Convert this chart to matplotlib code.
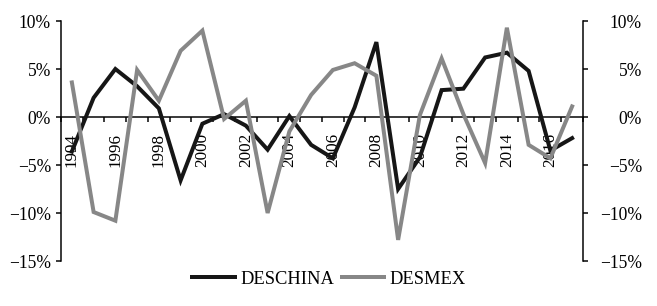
import matplotlib

matplotlib.use("Agg")
import matplotlib.pyplot as plt
import numpy as np
from matplotlib.ticker import FixedLocator, FuncFormatter

# --- data ------------------------------------------------------------------
years = list(range(1994, 2018))
deschina = [-3.6, 2.0, 5.0, 3.2, 0.9, -6.6, -0.7, 0.3, -0.9, -3.4, 0.1, -2.9,
            -4.3, 1.0, 7.8, -7.5, -4.2, 2.8, 2.95, 6.2, 6.7, 4.8, -3.5, -2.2]
desmex = [3.6, -9.9, -10.8, 4.9, 1.7, 6.9, 9.0, -0.2, 1.7, -10.0, -1.5, 2.3,
          4.9, 5.6, 4.3, -12.8, 0.2, 6.1, 0.3, -4.8, 9.3, -2.9, -4.3, 1.1]
yticks = [-15, -10, -5, 0, 5, 10]
label_years = list(range(1994, 2017, 2))

BLACK = "#161616"
GREY = "#878787"
FS = 17.5

plt.rcParams["font.family"] = ["Liberation Serif", "DejaVu Serif"]


def pct(v, _pos=None):
    s = f"{abs(v):.0f}%"
    return ("\u2212" + s) if v < 0 else s


W, H = 657, 306
fig = plt.figure(figsize=(W / 72, H / 72), dpi=72)
ax = fig.add_axes([61 / W, 45 / H, (583 - 61) / W, (261 - 21) / H])

ax.plot(years, deschina, color=BLACK, lw=4, solid_joinstyle="miter", label="DESCHINA", zorder=3)
ax.plot(years, desmex, color=GREY, lw=4, solid_joinstyle="miter", label="DESMEX", zorder=4)

ax.set_xlim(years[0] - 0.5, years[-1] + 0.5)
ax.set_ylim(-15, 10)

for side in ("top", "right"):
    ax.spines[side].set_visible(False)
ax.spines["bottom"].set_position(("data", 0))
ax.spines["bottom"].set_linewidth(1.5)
ax.spines["left"].set_linewidth(1.5)

# category boundaries as major ticks, year labels on minor ticks
ax.xaxis.set_major_locator(FixedLocator(np.arange(years[0] - 0.5, years[-1] + 1)))
ax.xaxis.set_minor_locator(FixedLocator(label_years))
ax.set_xticklabels([], minor=False)
ax.set_xticklabels([str(y) for y in label_years], minor=True, rotation=90, fontsize=17)
ax.tick_params(axis="x", which="major", direction="out", length=5, width=1.5)
ax.tick_params(axis="x", which="minor", length=0, pad=16)

ax.set_yticks(yticks)
ax.yaxis.set_major_formatter(FuncFormatter(pct))
ax.tick_params(axis="y", direction="out", length=5, width=1.5, labelsize=FS, pad=5)

ax2 = ax.twinx()
ax2.set_ylim(ax.get_ylim())
ax2.set_yticks(yticks)
ax2.yaxis.set_major_formatter(FuncFormatter(pct))
for side in ("top", "left", "bottom"):
    ax2.spines[side].set_visible(False)
ax2.spines["right"].set_linewidth(1.5)
ax2.tick_params(axis="y", direction="out", length=5, width=1.5, labelsize=FS, pad=54)
for t in ax2.get_yticklabels():
    t.set_horizontalalignment("right")

fig.legend(*ax.get_legend_handles_labels(), loc="center", bbox_to_anchor=(329 / W, 27 / H),
           ncol=2, frameon=False, fontsize=18.5, handlelength=2.3, handletextpad=0.3,
           columnspacing=0.4, borderpad=0)

fig.savefig("out.png", dpi=72)
